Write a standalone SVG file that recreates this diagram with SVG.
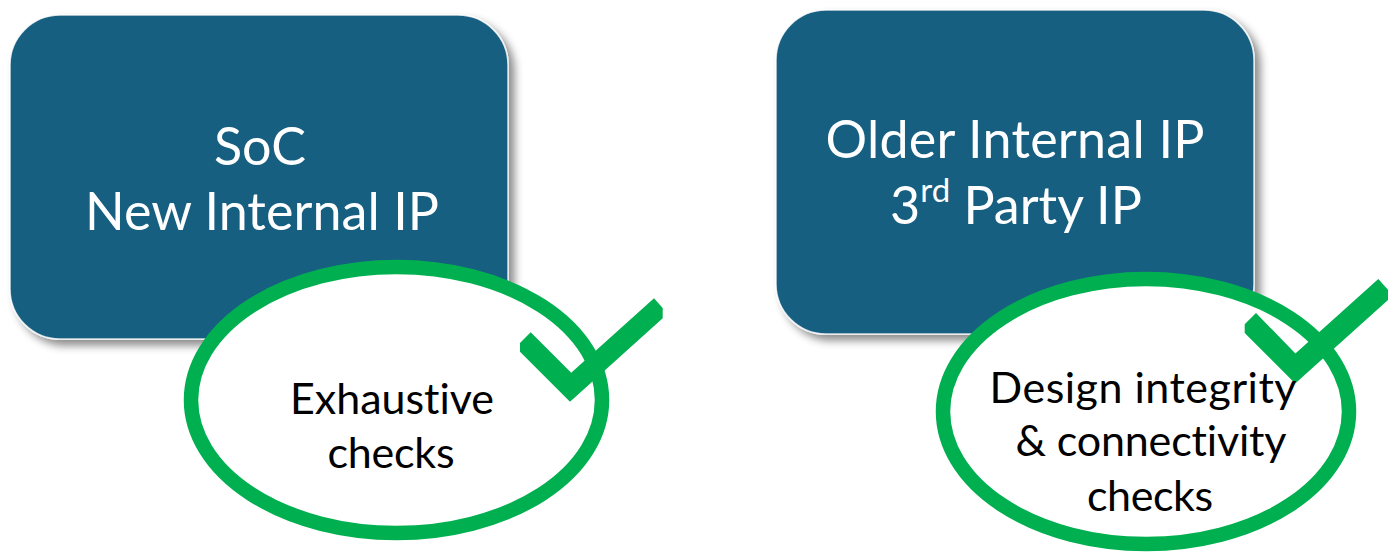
<svg xmlns="http://www.w3.org/2000/svg" width="1388" height="556" viewBox="0 0 1388 556">
  <style>
    .box { fill: #185E81; stroke: #ffffff; stroke-width: 1.5; stroke-opacity: 0.8; filter: url(#shadow); }
    .ring { fill: #ffffff; stroke: #00B050; stroke-width: 14.5; }
    .check { fill: #00B050; }
    text { font-variant-ligatures: none; font-feature-settings: "liga" 0, "clig" 0; }
    .white { fill: #ffffff; font-family: Lato, "Liberation Sans", sans-serif; font-size: 52px; text-anchor: middle; }
    .black { fill: #000000; font-family: Lato, "Liberation Sans", sans-serif; font-size: 43px; text-anchor: middle; }
  </style>
  <defs>
    <filter id="shadow" x="-10%" y="-10%" width="125%" height="130%">
      <feDropShadow dx="6" dy="6" stdDeviation="4" flood-color="#000000" flood-opacity="0.45"/>
    </filter>
  </defs>
  <rect width="1388" height="556" fill="#ffffff"/>
  <g id="connectors"/>
  <g id="node-soc">
    <rect class="box" x="10" y="15" width="498" height="324" rx="50" ry="50"/>
    <text class="white" x="260" y="165">SoC</text>
    <text class="white" x="262" y="230" textLength="354" lengthAdjust="spacing">New Internal IP</text>
  </g>
  <g id="node-older">
    <rect class="box" x="776" y="10" width="478" height="324" rx="50" ry="50"/>
    <text class="white" x="1015" y="158" textLength="379" lengthAdjust="spacing">Older Internal IP</text>
    <text class="white" x="1016" y="224">3<tspan font-size="33" dy="-22">rd</tspan><tspan dy="22"> Party IP</tspan></text>
  </g>
  <g id="node-exhaustive">
    <ellipse class="ring" cx="396.5" cy="400" rx="205.5" ry="133"/>
    <polygon class="check" points="530.7,332.3 571.2,372.8 654,298.3 662.7,308 662.7,318.3 570,401.7 520,351.7 520,343"/>
    <text class="black" x="392" y="414" textLength="204" lengthAdjust="spacing">Exhaustive</text>
    <text class="black" x="391" y="468" textLength="127" lengthAdjust="spacing">checks</text>
  </g>
  <g id="node-integrity">
    <ellipse class="ring" cx="1146" cy="411.5" rx="203" ry="132.5"/>
    <polygon class="check" points="1256,313 1295.4,353.4 1378.3,279 1388,289.7 1388,300 1295.2,383.5 1244.7,333 1244.7,324.3"/>
    <text class="black" x="1143" y="402.5" textLength="307" lengthAdjust="spacing">Design integrity</text>
    <text class="black" x="1151" y="455.7" textLength="271" lengthAdjust="spacing">&amp; connectivity</text>
    <text class="black" x="1150" y="510.6" textLength="126" lengthAdjust="spacing">checks</text>
  </g>
</svg>
